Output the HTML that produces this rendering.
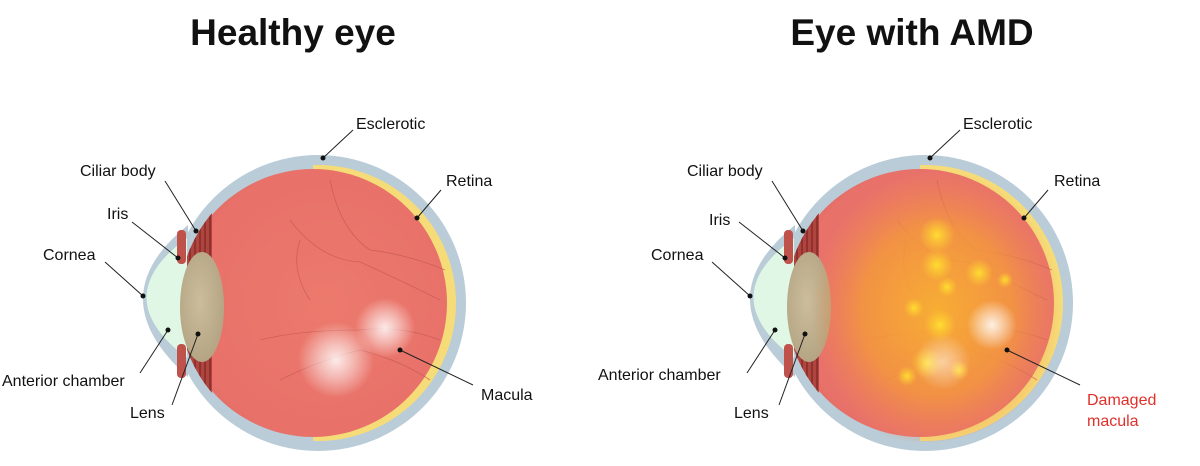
<!DOCTYPE html>
<html><head><meta charset="utf-8"><style>
html,body{margin:0;padding:0;background:#fff;}
svg{display:block;}
text{font-family:"Liberation Sans",Arial,sans-serif;}
</style></head><body>
<svg width="1200" height="466" viewBox="0 0 1200 466" xmlns="http://www.w3.org/2000/svg">
<defs>
  <clipPath id="cr"><rect x="187" y="0" width="400" height="466"/></clipPath>
  <clipPath id="cy"><rect x="313" y="0" width="300" height="466"/></clipPath>
  <clipPath id="ci"><circle cx="318" cy="303" r="139"/></clipPath>
  <radialGradient id="red" cx="0.55" cy="0.5" r="0.6">
    <stop offset="0" stop-color="#ec7a6c"/><stop offset="0.85" stop-color="#e8716a"/><stop offset="1" stop-color="#de6660"/>
  </radialGradient>
  <radialGradient id="wg" cx="0.5" cy="0.5" r="0.5">
    <stop offset="0" stop-color="#fff" stop-opacity="0.85"/><stop offset="0.5" stop-color="#fff" stop-opacity="0.45"/><stop offset="1" stop-color="#fff" stop-opacity="0"/>
  </radialGradient>
  <radialGradient id="og" cx="0.5" cy="0.5" r="0.5">
    <stop offset="0" stop-color="#f8b030" stop-opacity="0.95"/><stop offset="0.6" stop-color="#f49a3a" stop-opacity="0.8"/><stop offset="1" stop-color="#f08a4a" stop-opacity="0"/>
  </radialGradient>
  <radialGradient id="yg" cx="0.5" cy="0.5" r="0.5">
    <stop offset="0" stop-color="#ffe030" stop-opacity="0.95"/><stop offset="1" stop-color="#ffd030" stop-opacity="0"/>
  </radialGradient>
  <radialGradient id="lg" cx="0.45" cy="0.45" r="0.6">
    <stop offset="0" stop-color="#cbbd9d"/><stop offset="1" stop-color="#b3a382"/>
  </radialGradient>
  <g id="eye">
    <circle cx="318" cy="303" r="148" fill="#b9ccd7"/>
    <path d="M188 225 Q98 297 188 377 Z" fill="#b9ccd7"/>
    <g clip-path="url(#ci)">
      <rect x="170" y="150" width="17" height="320" fill="#b9ccd7"/>
      <circle cx="318" cy="303" r="138" fill="#f6dc78" clip-path="url(#cy)"/>
      <circle cx="313" cy="303" r="134" fill="url(#red)" clip-path="url(#cr)"/>
      <rect x="187" y="204" width="25" height="198" fill="#b0443f"/>
      <g stroke="#7e2826" stroke-width="1.3">
        <line x1="190" y1="204" x2="190" y2="402"/><line x1="195" y1="204" x2="195" y2="402"/>
        <line x1="200" y1="204" x2="200" y2="402"/><line x1="205" y1="204" x2="205" y2="402"/>
        <line x1="210" y1="204" x2="210" y2="402"/>
      </g>
    </g>
    <path d="M187 238 Q106 297 187 358 Z" fill="#e0f7e6"/>
    <rect x="177" y="230" width="9" height="34" rx="4" fill="#c0524c"/>
    <rect x="177" y="344" width="9" height="34" rx="4" fill="#c0524c"/>
    <ellipse cx="202" cy="307" rx="22" ry="55" fill="url(#lg)"/>
    <g fill="none" stroke="#c85a55" stroke-width="0.8" opacity="0.8">
      <path d="M290 220 Q320 260 360 262 Q400 280 440 300"/>
      <path d="M330 180 Q340 230 370 250 Q410 255 445 270"/>
      <path d="M260 340 Q300 330 360 330 Q400 325 440 340"/>
      <path d="M280 380 Q320 360 360 350 Q400 360 430 380"/>
      <path d="M300 240 Q290 270 310 300"/>
    </g>
  </g>
</defs>

<text x="293" y="45" font-size="37" font-weight="bold" text-anchor="middle" fill="#111">Healthy eye</text>
<text x="912" y="45" font-size="37" font-weight="bold" text-anchor="middle" fill="#111">Eye with AMD</text>

<use href="#eye"/>
<circle cx="385" cy="328" r="30" fill="url(#wg)"/>
<circle cx="336" cy="360" r="38" fill="url(#wg)"/>

<g transform="translate(607,0)">
  <use href="#eye"/>
  <g clip-path="url(#ci)">
    <ellipse cx="330" cy="310" rx="125" ry="140" fill="url(#og)"/>
    <circle cx="330" cy="235" r="18" fill="url(#yg)"/>
    <circle cx="330" cy="265" r="16" fill="url(#yg)"/>
    <circle cx="372" cy="273" r="14" fill="url(#yg)"/>
    <circle cx="333" cy="325" r="16" fill="url(#yg)"/>
    <circle cx="307" cy="308" r="10" fill="url(#yg)"/>
    <circle cx="340" cy="287" r="10" fill="url(#yg)"/>
    <circle cx="320" cy="363" r="16" fill="url(#yg)"/>
    <circle cx="300" cy="376" r="10" fill="url(#yg)"/>
    <circle cx="352" cy="370" r="10" fill="url(#yg)"/>
    <circle cx="398" cy="280" r="8" fill="url(#yg)"/>
    <circle cx="385" cy="325" r="25" fill="url(#wg)"/>
    <circle cx="336" cy="362" r="28" fill="url(#wg)" opacity="0.6"/>
  </g>
</g>

<g stroke="#222" stroke-width="1" fill="#111" font-size="16">
  <line x1="353" y1="130" x2="323" y2="158"/><circle cx="323" cy="158" r="2.5" stroke="none"/>
  <line x1="165" y1="181" x2="196" y2="231"/><circle cx="196" cy="231" r="2.5" stroke="none"/>
  <line x1="132" y1="222" x2="178" y2="258"/><circle cx="178" cy="258" r="2.5" stroke="none"/>
  <line x1="105" y1="262" x2="143" y2="296"/><circle cx="143" cy="296" r="2.5" stroke="none"/>
  <line x1="140" y1="373" x2="168" y2="330"/><circle cx="168" cy="330" r="2.5" stroke="none"/>
  <line x1="172" y1="405" x2="198" y2="334"/><circle cx="198" cy="334" r="2.5" stroke="none"/>
  <line x1="441" y1="190" x2="417" y2="218"/><circle cx="417" cy="218" r="2.5" stroke="none"/>
  <line x1="473" y1="385" x2="400" y2="350"/><circle cx="400" cy="350" r="2.5" stroke="none"/>
</g>
<g stroke="#222" stroke-width="1" fill="#111" transform="translate(607,0)">
  <line x1="353" y1="130" x2="323" y2="158"/><circle cx="323" cy="158" r="2.5" stroke="none"/>
  <line x1="165" y1="181" x2="196" y2="231"/><circle cx="196" cy="231" r="2.5" stroke="none"/>
  <line x1="132" y1="222" x2="178" y2="258"/><circle cx="178" cy="258" r="2.5" stroke="none"/>
  <line x1="105" y1="262" x2="143" y2="296"/><circle cx="143" cy="296" r="2.5" stroke="none"/>
  <line x1="140" y1="373" x2="168" y2="330"/><circle cx="168" cy="330" r="2.5" stroke="none"/>
  <line x1="172" y1="405" x2="198" y2="334"/><circle cx="198" cy="334" r="2.5" stroke="none"/>
  <line x1="441" y1="190" x2="417" y2="218"/><circle cx="417" cy="218" r="2.5" stroke="none"/>
  <line x1="473" y1="385" x2="400" y2="350"/><circle cx="400" cy="350" r="2.5" stroke="none"/>
</g>

<g font-size="16" fill="#111">
  <text x="356" y="129">Esclerotic</text>
  <text x="80" y="176">Ciliar body</text>
  <text x="107" y="219">Iris</text>
  <text x="43" y="260">Cornea</text>
  <text x="2" y="386">Anterior chamber</text>
  <text x="130" y="418">Lens</text>
  <text x="446" y="186">Retina</text>
  <text x="481" y="400">Macula</text>
  <text x="963" y="129">Esclerotic</text>
  <text x="687" y="176">Ciliar body</text>
  <text x="709" y="225">Iris</text>
  <text x="651" y="260">Cornea</text>
  <text x="598" y="380">Anterior chamber</text>
  <text x="734" y="418">Lens</text>
  <text x="1054" y="186">Retina</text>
  <text x="1087" y="405" fill="#e0302a">Damaged</text>
  <text x="1087" y="426" fill="#e0302a">macula</text>
</g>
</svg>
</body></html>
